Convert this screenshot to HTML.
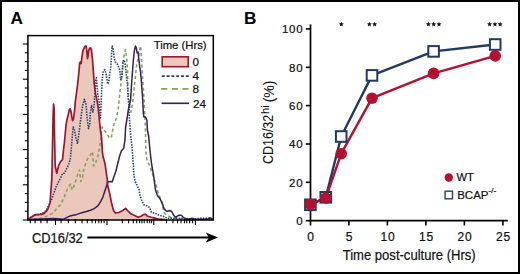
<!DOCTYPE html>
<html><head><meta charset="utf-8">
<style>
html,body{margin:0;padding:0;background:#fff;}
body{width:520px;height:274px;overflow:hidden;position:relative;}
svg{position:absolute;left:0;top:0;display:block;}
text{font-family:"Liberation Sans",sans-serif;fill:#111;stroke:#111;stroke-width:0.22px;}
.yl text{stroke-width:0.05px;}
</style></head><body>
<svg width="520" height="274" viewBox="0 0 520 274">
<rect x="0" y="0" width="520" height="274" fill="#fff"/>
<rect x="1" y="1" width="518" height="272" fill="none" stroke="#000" stroke-width="2"/>
<text x="10.4" y="24.2" font-size="17.2" font-weight="bold" style="fill:#000;stroke:none">A</text>
<text x="243.9" y="24" font-size="17.2" font-weight="bold" style="fill:#000;stroke:none">B</text>

<!-- Panel A histograms -->
<polygon points="27.9,219.2 29.8,218.2 32.7,216.3 35.6,214.6 41.3,214.4 44.2,213.4 46.2,211.5 48.1,208.6 50.0,202.8 51.0,189.4 51.9,177.8 52.6,140.0 53.1,115.0 53.6,104.0 54.1,108.0 54.6,140.0 55.2,166.0 56.7,173.2 58.7,165.5 60.6,161.6 62.5,159.7 63.5,150.0 64.4,142.4 65.2,134.0 66.0,125.0 67.0,119.5 68.2,114.7 69.3,109.8 70.1,108.7 71.0,111.4 71.8,116.9 72.6,120.7 73.4,119.1 74.2,113.6 74.8,108.1 75.3,101.6 76.2,95.0 77.3,87.0 78.3,78.0 79.3,68.0 79.6,63.0 80.4,61.9 81.2,63.5 82.0,56.4 82.9,51.0 83.7,48.8 84.8,46.6 85.9,46.0 86.4,47.1 87.0,53.1 87.5,58.6 88.0,56.0 88.6,51.0 89.5,48.2 90.6,47.9 91.4,49.9 91.9,54.2 92.5,59.7 93.0,66.3 93.4,72.0 94.2,83.7 95.6,93.9 97.1,101.2 98.0,106.0 98.7,112.7 99.6,122.3 100.4,130.0 101.5,137.0 102.1,146.0 102.3,151.0 103.0,156.6 104.0,159.8 105.1,164.2 106.2,171.9 107.3,180.0 107.7,185.5 109.6,193.2 111.5,202.8 113.5,210.5 115.4,213.0 118.8,212.5 122.7,210.5 125.6,208.4 127.5,210.5 130.4,213.4 134.2,215.3 138.1,217.3 141.0,216.3 143.8,214.4 145.8,214.4 147.7,216.3 151.5,217.3 155.4,218.2 159.2,219.2 165.0,219.6 165,220 27.9,220" fill="#ebc7bc" stroke="none"/>
<polyline points="27.5,219.3 40.0,218.5 46.0,216.5 51.0,214.2 54.0,212.2 57.0,208.2 60.7,204.5 64.4,196.5 68.0,187.7 70.5,184.0 72.2,190.0 73.9,186.2 75.3,181.9 78.2,173.1 79.5,170.0 80.9,181.5 82.6,177.5 83.4,170.9 84.3,167.5 86.7,160.4 89.6,156.1 92.6,151.7 93.5,166.0 95.5,163.4 98.4,154.6 99.9,145.8 101.3,132.0 102.2,126.9 105.1,131.3 107.3,134.2 109.6,138.5 111.5,136.6 112.5,130.8 114.4,122.3 116.3,118.5 118.3,108.8 119.2,99.2 120.2,89.6 121.6,78.0 123.0,62.0 124.4,54.0 125.5,49.5 126.6,57.5 127.3,66.3 127.7,79.4 128.1,90.3 129.5,106.0 131.0,112.0 133.0,100.0 135.0,80.0 137.0,62.0 138.5,58.0 139.6,50.0 140.6,46.0 141.3,56.0 142.2,70.0 142.8,82.0 143.6,92.0 144.2,103.0 144.8,114.6 145.4,126.2 145.8,146.2 146.2,155.8 147.3,161.6 148.7,164.0 150.5,168.0 152.5,174.0 154.5,180.0 156.3,185.5 158.3,193.2 161.2,200.9 164.0,212.5 166.0,214.4 168.8,216.3 172.7,218.2 180.0,219.0 212.5,219.3" fill="none" stroke="#84a45a" stroke-width="1.6" stroke-dasharray="3.2 2.6" stroke-linejoin="round"/>
<polyline points="27.5,219.0 30.0,218.0 34.6,215.3 38.5,214.4 42.3,213.4 46.2,210.5 49.0,204.8 51.9,199.0 53.8,193.2 55.8,187.5 57.7,183.6 59.6,179.8 61.5,176.0 62.5,173.4 64.4,173.2 66.3,169.3 68.3,165.5 70.2,159.7 71.2,150.0 72.1,138.5 73.2,127.0 74.5,130.0 76.0,138.0 77.5,144.0 79.3,131.0 80.8,118.4 82.6,105.6 84.4,99.2 86.0,104.3 87.2,118.4 88.5,128.6 89.8,123.5 90.3,113.2 91.6,105.6 92.9,112.0 94.1,105.6 94.9,92.8 95.7,80.0 96.4,77.8 97.1,86.6 97.8,93.9 99.0,101.2 100.0,112.0 100.4,118.0 100.9,110.0 101.5,93.9 101.9,86.6 102.2,79.3 103.3,70.8 104.8,69.7 106.1,74.1 107.7,84.0 108.8,81.8 109.9,73.0 110.8,67.0 111.3,59.0 111.7,51.0 112.2,46.0 113.1,48.5 114.2,57.7 115.3,62.1 116.4,63.2 117.5,64.3 119.7,69.7 120.8,79.6 121.9,76.3 123.0,62.1 124.1,59.9 125.2,64.3 126.3,75.2 127.4,84.0 128.0,97.0 128.8,105.0 129.2,114.6 130.0,127.0 130.8,136.6 131.9,146.2 132.7,155.8 133.3,165.5 133.8,173.2 134.2,177.0 135.2,181.7 137.1,185.5 139.0,189.4 140.0,195.2 141.9,200.9 143.8,204.8 146.7,205.7 149.6,207.6 151.5,212.5 155.4,213.4 159.2,215.3 163.1,216.3 166.9,218.2 182.3,218.2 191.9,219.2 200.0,218.4 209.2,218.2 212.5,219.0" fill="none" stroke="#28436a" stroke-width="1.6" stroke-dasharray="1.5 1.2" stroke-linejoin="round"/>
<polyline points="27.5,219.5 53.8,218.4 63.5,219.2 69.2,216.3 73.1,215.3 76.9,214.4 79.8,213.4 82.7,212.5 86.5,211.5 90.4,210.2 94.2,208.6 98.1,205.7 101.0,200.9 102.9,197.0 104.8,191.3 106.7,185.5 107.6,182.0 109.6,181.5 112.2,181.8 114.0,176.5 115.9,171.0 117.7,163.7 119.5,156.4 121.3,151.0 122.2,150.0 123.7,148.2 124.4,143.6 125.0,140.0 125.6,127.0 127.1,118.5 128.5,108.8 130.6,100.0 131.2,90.0 132.0,78.0 133.2,62.0 134.3,51.0 135.4,46.1 136.3,47.7 137.1,53.0 138.0,52.0 138.9,59.7 139.6,66.0 140.3,70.0 141.2,78.8 141.8,87.5 142.5,96.3 142.9,105.0 143.4,113.8 144.0,117.0 145.6,117.0 146.9,120.3 147.4,130.0 148.7,136.6 149.6,146.2 150.6,155.8 151.5,163.5 152.5,169.3 153.5,175.0 154.4,181.7 155.4,189.4 157.3,195.2 160.2,199.0 162.1,202.8 164.0,208.6 166.9,211.5 169.8,210.5 171.7,211.5 173.7,215.3 175.6,217.3 178.5,215.3 181.3,215.3 184.2,218.2 188.1,219.2 191.9,218.2 195.8,219.2 207.3,219.2 210.2,217.8 212.5,219.0" fill="none" stroke="#35205a" stroke-width="1.5" stroke-linejoin="round"/>
<polyline points="27.9,219.2 29.8,218.2 32.7,216.3 35.6,214.6 41.3,214.4 44.2,213.4 46.2,211.5 48.1,208.6 50.0,202.8 51.0,189.4 51.9,177.8 52.6,140.0 53.1,115.0 53.6,104.0 54.1,108.0 54.6,140.0 55.2,166.0 56.7,173.2 58.7,165.5 60.6,161.6 62.5,159.7 63.5,150.0 64.4,142.4 65.2,134.0 66.0,125.0 67.0,119.5 68.2,114.7 69.3,109.8 70.1,108.7 71.0,111.4 71.8,116.9 72.6,120.7 73.4,119.1 74.2,113.6 74.8,108.1 75.3,101.6 76.2,95.0 77.3,87.0 78.3,78.0 79.3,68.0 79.6,63.0 80.4,61.9 81.2,63.5 82.0,56.4 82.9,51.0 83.7,48.8 84.8,46.6 85.9,46.0 86.4,47.1 87.0,53.1 87.5,58.6 88.0,56.0 88.6,51.0 89.5,48.2 90.6,47.9 91.4,49.9 91.9,54.2 92.5,59.7 93.0,66.3 93.4,72.0 94.2,83.7 95.6,93.9 97.1,101.2 98.0,106.0 98.7,112.7 99.6,122.3 100.4,130.0 101.5,137.0 102.1,146.0 102.3,151.0 103.0,156.6 104.0,159.8 105.1,164.2 106.2,171.9 107.3,180.0 107.7,185.5 109.6,193.2 111.5,202.8 113.5,210.5 115.4,213.0 118.8,212.5 122.7,210.5 125.6,208.4 127.5,210.5 130.4,213.4 134.2,215.3 138.1,217.3 141.0,216.3 143.8,214.4 145.8,214.4 147.7,216.3 151.5,217.3 155.4,218.2 159.2,219.2 165.0,219.6" fill="none" stroke="#9e1530" stroke-width="1.7" stroke-linejoin="round"/>

<!-- Panel A frame -->
<rect x="27.9" y="35.6" width="185.4" height="184.4" fill="none" stroke="#000" stroke-width="1.5"/>
<g stroke="#000" stroke-width="1.1"><line x1="22.8" y1="44.0" x2="28" y2="44.0"/><line x1="24.8" y1="52.8" x2="28" y2="52.8"/><line x1="24.8" y1="61.6" x2="28" y2="61.6"/><line x1="24.8" y1="70.4" x2="28" y2="70.4"/><line x1="22.8" y1="79.2" x2="28" y2="79.2"/><line x1="24.8" y1="88.0" x2="28" y2="88.0"/><line x1="24.8" y1="96.8" x2="28" y2="96.8"/><line x1="24.8" y1="105.6" x2="28" y2="105.6"/><line x1="22.8" y1="114.4" x2="28" y2="114.4"/><line x1="24.8" y1="123.2" x2="28" y2="123.2"/><line x1="24.8" y1="132.0" x2="28" y2="132.0"/><line x1="24.8" y1="140.8" x2="28" y2="140.8"/><line x1="22.8" y1="149.6" x2="28" y2="149.6"/><line x1="24.8" y1="158.4" x2="28" y2="158.4"/><line x1="24.8" y1="167.2" x2="28" y2="167.2"/><line x1="24.8" y1="176.0" x2="28" y2="176.0"/><line x1="22.8" y1="184.8" x2="28" y2="184.8"/><line x1="24.8" y1="193.6" x2="28" y2="193.6"/><line x1="24.8" y1="202.4" x2="28" y2="202.4"/><line x1="24.8" y1="211.2" x2="28" y2="211.2"/><line x1="22.8" y1="220.0" x2="28" y2="220.0"/></g>
<g stroke="#000" stroke-width="1.1"><line x1="30.3" y1="219" x2="30.3" y2="223.3"/><line x1="35.1" y1="219" x2="35.1" y2="223.3"/><line x1="40.9" y1="219" x2="40.9" y2="223.3"/><line x1="47.1" y1="219" x2="47.1" y2="223.3"/><line x1="61.1" y1="219" x2="61.1" y2="223.3"/><line x1="68.3" y1="219" x2="68.3" y2="223.3"/><line x1="75.3" y1="219" x2="75.3" y2="223.3"/><line x1="82" y1="219" x2="82" y2="223.3"/><line x1="87.3" y1="219" x2="87.3" y2="223.3"/><line x1="92.1" y1="219" x2="92.1" y2="223.3"/><line x1="95.5" y1="219" x2="95.5" y2="223.3"/><line x1="98.8" y1="219" x2="98.8" y2="223.3"/><line x1="101.3" y1="219" x2="101.3" y2="223.3"/><line x1="104.1" y1="219" x2="104.1" y2="223.3"/><line x1="122.3" y1="219" x2="122.3" y2="223.3"/><line x1="128.6" y1="219" x2="128.6" y2="223.3"/><line x1="133.3" y1="219" x2="133.3" y2="223.3"/><line x1="136.7" y1="219" x2="136.7" y2="223.3"/><line x1="139.6" y1="219" x2="139.6" y2="223.3"/><line x1="141.9" y1="219" x2="141.9" y2="223.3"/><line x1="144.2" y1="219" x2="144.2" y2="223.3"/><line x1="147.2" y1="219" x2="147.2" y2="223.3"/><line x1="149.6" y1="219" x2="149.6" y2="223.3"/><line x1="151.6" y1="219" x2="151.6" y2="223.3"/><line x1="166.5" y1="219" x2="166.5" y2="223.3"/><line x1="172.9" y1="219" x2="172.9" y2="223.3"/><line x1="177.5" y1="219" x2="177.5" y2="223.3"/><line x1="181" y1="219" x2="181" y2="223.3"/><line x1="184.4" y1="219" x2="184.4" y2="223.3"/><line x1="186.7" y1="219" x2="186.7" y2="223.3"/><line x1="189.6" y1="219" x2="189.6" y2="223.3"/><line x1="192.6" y1="219" x2="192.6" y2="223.3"/><line x1="55.5" y1="219" x2="55.5" y2="225"/><line x1="107" y1="219" x2="107" y2="225"/><line x1="153.8" y1="219" x2="153.8" y2="225"/><line x1="195.4" y1="219" x2="195.4" y2="225"/></g>

<!-- Panel A legend -->
<text x="153.7" y="48.7" font-size="11.3">Time (Hrs)</text>
<rect x="162.2" y="56.8" width="26" height="9.9" fill="#ebc7bc" stroke="#9e1530" stroke-width="1.6"/>
<text x="192.6" y="65.9" font-size="11.8">0</text>
<line x1="161.8" y1="76.2" x2="189.3" y2="76.2" stroke="#28436a" stroke-width="1.7" stroke-dasharray="2.9 1.9"/>
<text x="192.4" y="80.3" font-size="11.8">4</text>
<line x1="161.3" y1="88.8" x2="189.6" y2="88.8" stroke="#84a45a" stroke-width="1.7" stroke-dasharray="6 4.6"/>
<text x="192.6" y="93.1" font-size="11.8">8</text>
<line x1="161.6" y1="103.3" x2="189" y2="103.3" stroke="#35205a" stroke-width="1.6"/>
<text x="192.9" y="108" font-size="11.8">24</text>

<!-- Panel A x label + arrow -->
<text x="32" y="242.9" font-size="14" transform="translate(32 0) scale(0.92 1) translate(-32 0)">CD16/32</text>
<line x1="87.3" y1="237.4" x2="210" y2="237.4" stroke="#000" stroke-width="2"/>
<path d="M218.2,237.6 L205.8,232.6 L209,237.6 L205.8,242.6 Z" fill="#000"/>

<!-- Panel B axes -->
<g stroke="#000" stroke-width="1.7" fill="none">
<line x1="310.5" y1="24.4" x2="310.5" y2="225.5"/>
<line x1="309.6" y1="220.7" x2="507.8" y2="220.7"/>
</g>
<g stroke="#000" stroke-width="1.6">
<line x1="305.8" y1="220.7" x2="310.5" y2="220.7"/>
<line x1="305.8" y1="182.3" x2="310.5" y2="182.3"/>
<line x1="305.8" y1="144.0" x2="310.5" y2="144.0"/>
<line x1="305.8" y1="105.6" x2="310.5" y2="105.6"/>
<line x1="305.8" y1="67.3" x2="310.5" y2="67.3"/>
<line x1="305.8" y1="28.9" x2="310.5" y2="28.9"/>
<line x1="348.9" y1="220.7" x2="348.9" y2="225.5"/>
<line x1="387.4" y1="220.7" x2="387.4" y2="225.5"/>
<line x1="425.9" y1="220.7" x2="425.9" y2="225.5"/>
<line x1="464.4" y1="220.7" x2="464.4" y2="225.5"/>
<line x1="502.9" y1="220.7" x2="502.9" y2="225.5"/>
</g>
<g font-size="11.5" text-anchor="end" letter-spacing="0.7">
<text x="303.3" y="225.1">0</text>
<text x="303.3" y="186.7">20</text>
<text x="303.3" y="148.4">40</text>
<text x="303.3" y="110.0">60</text>
<text x="303.3" y="71.7">80</text>
<text x="303.3" y="33.3">100</text>
</g>
<g font-size="12" text-anchor="middle" letter-spacing="0.6">
<text x="310.9" y="240.7">0</text>
<text x="349.4" y="240.7">5</text>
<text x="387.9" y="240.7">10</text>
<text x="426.4" y="240.7">15</text>
<text x="464.9" y="240.7">20</text>
<text x="503.4" y="240.7">25</text>
</g>

<g transform="translate(273.2 0) rotate(-90)" class="yl">
<text x="0" y="0" font-size="14" transform="translate(-164.1 0) scale(0.895 1)">CD16/32</text>
<text x="-113.9" y="-3.9" font-size="11.2">hi</text>
<text x="-102.3" y="0.7" font-size="14">(%)</text>
</g>
<text x="409.2" y="260.5" font-size="14.6" text-anchor="middle" transform="translate(409.2 0) scale(0.895 1) translate(-409.2 0)">Time post-culture (Hrs)</text>

<polyline points="310.4,204.8 325.8,197.3 341.2,136.5 372.0,75.4 433.6,51.4 495.2,44.5" fill="none" stroke="#213a62" stroke-width="2.4" stroke-linejoin="round"/>
<polyline points="310.4,204.2 325.8,198.0 341.2,153.7 372.0,98.2 433.6,73.4 495.2,55.9" fill="none" stroke="#b5102f" stroke-width="2.4" stroke-linejoin="round"/>
<rect x="305.1" y="199.5" width="10.6" height="10.6" fill="#fff" stroke="#213a62" stroke-width="2"/>
<rect x="320.5" y="192.0" width="10.6" height="10.6" fill="#fff" stroke="#213a62" stroke-width="2"/>
<rect x="335.9" y="131.2" width="10.6" height="10.6" fill="#fff" stroke="#213a62" stroke-width="2"/>
<rect x="366.7" y="70.1" width="10.6" height="10.6" fill="#fff" stroke="#213a62" stroke-width="2"/>
<rect x="428.3" y="46.1" width="10.6" height="10.6" fill="#fff" stroke="#213a62" stroke-width="2"/>
<rect x="489.9" y="39.2" width="10.6" height="10.6" fill="#fff" stroke="#213a62" stroke-width="2"/>
<circle cx="310.4" cy="204.2" r="5.8" fill="#b5102f"/>
<circle cx="325.8" cy="198.0" r="5.8" fill="#b5102f"/>
<circle cx="341.2" cy="153.7" r="5.8" fill="#b5102f"/>
<circle cx="372.0" cy="98.2" r="5.8" fill="#b5102f"/>
<circle cx="433.6" cy="73.4" r="5.8" fill="#b5102f"/>
<circle cx="495.2" cy="55.9" r="5.8" fill="#b5102f"/>
<polygon points="341.30,21.70 341.98,23.37 343.77,23.50 342.39,24.66 342.83,26.40 341.30,25.45 339.77,26.40 340.21,24.66 338.83,23.50 340.62,23.37" fill="#111"/>
<polygon points="369.40,21.70 370.08,23.37 371.87,23.50 370.49,24.66 370.93,26.40 369.40,25.45 367.87,26.40 368.31,24.66 366.93,23.50 368.72,23.37" fill="#111"/>
<polygon points="374.60,21.70 375.28,23.37 377.07,23.50 375.69,24.66 376.13,26.40 374.60,25.45 373.07,26.40 373.51,24.66 372.13,23.50 373.92,23.37" fill="#111"/>
<polygon points="428.40,21.70 429.08,23.37 430.87,23.50 429.49,24.66 429.93,26.40 428.40,25.45 426.87,26.40 427.31,24.66 425.93,23.50 427.72,23.37" fill="#111"/>
<polygon points="433.70,21.70 434.38,23.37 436.17,23.50 434.79,24.66 435.23,26.40 433.70,25.45 432.17,26.40 432.61,24.66 431.23,23.50 433.02,23.37" fill="#111"/>
<polygon points="439.00,21.70 439.68,23.37 441.47,23.50 440.09,24.66 440.53,26.40 439.00,25.45 437.47,26.40 437.91,24.66 436.53,23.50 438.32,23.37" fill="#111"/>
<polygon points="489.60,21.70 490.28,23.37 492.07,23.50 490.69,24.66 491.13,26.40 489.60,25.45 488.07,26.40 488.51,24.66 487.13,23.50 488.92,23.37" fill="#111"/>
<polygon points="494.90,21.70 495.58,23.37 497.37,23.50 495.99,24.66 496.43,26.40 494.90,25.45 493.37,26.40 493.81,24.66 492.43,23.50 494.22,23.37" fill="#111"/>
<polygon points="500.20,21.70 500.88,23.37 502.67,23.50 501.29,24.66 501.73,26.40 500.20,25.45 498.67,26.40 499.11,24.66 497.73,23.50 499.52,23.37" fill="#111"/>

<circle cx="448.8" cy="177.5" r="4.2" fill="#b5102f"/>
<text x="456.4" y="181.3" font-size="11.2">WT</text>
<rect x="445.1" y="191.2" width="7.4" height="7.6" fill="#fff" stroke="#34456a" stroke-width="1.45"/>
<text x="457.2" y="198.8" font-size="11.5">BCAP<tspan font-size="8" dy="-5.5">-/-</tspan></text>
</svg>
</body></html>
